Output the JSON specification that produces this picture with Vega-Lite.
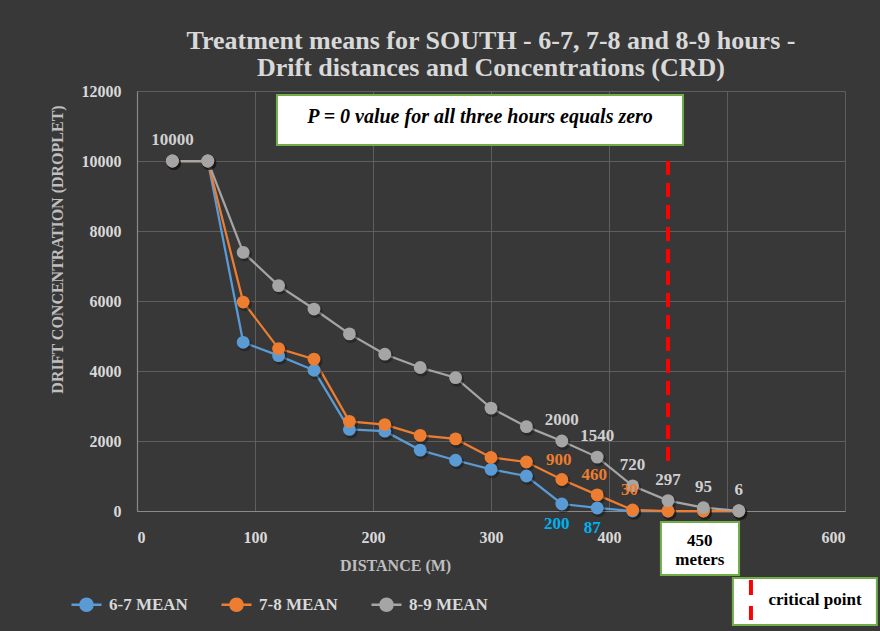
{
  "$schema": "https://vega.github.io/schema/vega-lite/v6.json",
  "width": 708,
  "height": 420,
  "autosize": {"type": "none"},
  "padding": {"left": 137, "top": 91, "right": 35, "bottom": 120},
  "background": "#383838",
  "config": {
    "view": {"stroke": null},
    "font": "Times New Roman, Liberation Serif, serif"
  },
  "title": {
    "text": ["Treatment means for SOUTH - 6-7, 7-8 and 8-9 hours -", "Drift distances and Concentrations (CRD)"],
    "font": "Times New Roman, Liberation Serif, serif",
    "fontSize": 26,
    "fontWeight": "bold",
    "color": "#d9d9d9",
    "anchor": "middle",
    "lineHeight": 27,
    "offset": 2
  },
  "datasets": {
    "series": [
      {"x": 30, "y": 10000, "s": "6-7 MEAN"},
      {"x": 60, "y": 10000, "s": "6-7 MEAN"},
      {"x": 90, "y": 4820, "s": "6-7 MEAN"},
      {"x": 120, "y": 4440, "s": "6-7 MEAN"},
      {"x": 150, "y": 4020, "s": "6-7 MEAN"},
      {"x": 180, "y": 2330, "s": "6-7 MEAN"},
      {"x": 210, "y": 2280, "s": "6-7 MEAN"},
      {"x": 240, "y": 1740, "s": "6-7 MEAN"},
      {"x": 270, "y": 1450, "s": "6-7 MEAN"},
      {"x": 300, "y": 1190, "s": "6-7 MEAN"},
      {"x": 330, "y": 1000, "s": "6-7 MEAN"},
      {"x": 360, "y": 200, "s": "6-7 MEAN", "lbl": "200"},
      {"x": 390, "y": 87, "s": "6-7 MEAN", "lbl": "87"},
      {"x": 420, "y": 0, "s": "6-7 MEAN"},
      {"x": 450, "y": 0, "s": "6-7 MEAN"},
      {"x": 480, "y": 0, "s": "6-7 MEAN"},
      {"x": 510, "y": 0, "s": "6-7 MEAN"},
      {"x": 30, "y": 10000, "s": "7-8 MEAN"},
      {"x": 60, "y": 10000, "s": "7-8 MEAN"},
      {"x": 90, "y": 5970, "s": "7-8 MEAN"},
      {"x": 120, "y": 4640, "s": "7-8 MEAN"},
      {"x": 150, "y": 4340, "s": "7-8 MEAN"},
      {"x": 180, "y": 2560, "s": "7-8 MEAN"},
      {"x": 210, "y": 2470, "s": "7-8 MEAN"},
      {"x": 240, "y": 2160, "s": "7-8 MEAN"},
      {"x": 270, "y": 2060, "s": "7-8 MEAN"},
      {"x": 300, "y": 1530, "s": "7-8 MEAN"},
      {"x": 330, "y": 1400, "s": "7-8 MEAN"},
      {"x": 360, "y": 900, "s": "7-8 MEAN", "lbl": "900"},
      {"x": 390, "y": 460, "s": "7-8 MEAN", "lbl": "460"},
      {"x": 420, "y": 30, "s": "7-8 MEAN", "lbl": "30"},
      {"x": 450, "y": 0, "s": "7-8 MEAN"},
      {"x": 480, "y": 0, "s": "7-8 MEAN"},
      {"x": 510, "y": 0, "s": "7-8 MEAN"},
      {"x": 30, "y": 10000, "s": "8-9 MEAN", "lbl": "10000"},
      {"x": 60, "y": 10000, "s": "8-9 MEAN"},
      {"x": 90, "y": 7390, "s": "8-9 MEAN"},
      {"x": 120, "y": 6440, "s": "8-9 MEAN"},
      {"x": 150, "y": 5770, "s": "8-9 MEAN"},
      {"x": 180, "y": 5060, "s": "8-9 MEAN"},
      {"x": 210, "y": 4480, "s": "8-9 MEAN"},
      {"x": 240, "y": 4100, "s": "8-9 MEAN"},
      {"x": 270, "y": 3810, "s": "8-9 MEAN"},
      {"x": 300, "y": 2940, "s": "8-9 MEAN"},
      {"x": 330, "y": 2410, "s": "8-9 MEAN"},
      {"x": 360, "y": 2000, "s": "8-9 MEAN", "lbl": "2000"},
      {"x": 390, "y": 1540, "s": "8-9 MEAN", "lbl": "1540"},
      {"x": 420, "y": 720, "s": "8-9 MEAN", "lbl": "720"},
      {"x": 450, "y": 297, "s": "8-9 MEAN", "lbl": "297"},
      {"x": 480, "y": 95, "s": "8-9 MEAN", "lbl": "95"},
      {"x": 510, "y": 6, "s": "8-9 MEAN", "lbl": "6"}
    ],
    "boxes": [
      {"x": 118.6, "x2": 462.7, "y": 11886, "y2": 10457},
      {"x": 444, "x2": 510.2, "y": -314, "y2": -1829},
      {"x": 505, "x2": 627, "y": -1914, "y2": -3257}
    ],
    "notes": [
      {"x": 290.7, "y": 11250, "t": "P = 0  value for all three hours equals zero", "k": "p"},
      {"x": 477, "y": -857, "t": "450", "k": "b"},
      {"x": 477, "y": -1400, "t": "meters", "k": "b"},
      {"x": 574.6, "y": -2543, "t": "critical point", "k": "b"}
    ],
    "dashes": [
      {"x": 450, "y": 10000, "y2": 1229, "k": "main"},
      {"x": 520.3, "y": -1971, "y2": -3114, "k": "key"}
    ]
  },
  "layer": [
    {
      "data": {"name": "series"},
      "mark": {"type": "line", "strokeWidth": 2.25},
      "encoding": {
        "x": {
          "field": "x", "type": "quantitative",
          "scale": {"domain": [0, 600], "nice": false},
          "axis": {
            "values": [0, 100, 200, 300, 400, 500, 600],
            "title": "DISTANCE (M)",
            "titleX": 258, "titleY": 54,
            "titleBaseline": "middle", "titleAlign": "center",
            "titleColor": "#bfbfbf", "titleFont": "Times New Roman, Liberation Serif, serif", "titleFontSize": 16, "titleFontWeight": "bold",
            "labelColor": "#d9d9d9", "labelFont": "Times New Roman, Liberation Serif, serif", "labelFontSize": 16, "labelFontWeight": "bold",
            "labelPadding": 18, "ticks": false,
            "domainColor": "#8a8a8a", "domainWidth": 1.2,
            "gridColor": "#5e5e5e", "gridWidth": 1
          }
        },
        "y": {
          "field": "y", "type": "quantitative",
          "scale": {"domain": [0, 12000], "nice": false},
          "axis": {
            "values": [0, 2000, 4000, 6000, 8000, 10000, 12000],
            "format": "d",
            "title": "DRIFT CONCENTRATION (DROPLET)",
            "titleX": -80, "titleY": 158,
            "titleBaseline": "middle", "titleAlign": "center", "titleAngle": -90,
            "titleColor": "#bfbfbf", "titleFont": "Times New Roman, Liberation Serif, serif", "titleFontSize": 16, "titleFontWeight": "bold",
            "labelColor": "#d9d9d9", "labelFont": "Times New Roman, Liberation Serif, serif", "labelFontSize": 16, "labelFontWeight": "bold",
            "labelPadding": 16, "ticks": false,
            "domainColor": "#8a8a8a", "domainWidth": 1.2,
            "gridColor": "#5e5e5e", "gridWidth": 1
          }
        },
        "color": {
          "field": "s", "type": "nominal",
          "scale": {"domain": ["6-7 MEAN", "7-8 MEAN", "8-9 MEAN"], "range": ["#5B9BD5", "#ED7D31", "#A5A5A5"]},
          "legend": {
            "title": null,
            "orient": "none",
            "direction": "horizontal",
            "legendX": -67,
            "legendY": 497,
            "padding": 0,
            "symbolType": "M-1,0H1M0.4,0A0.4,0.4,0,1,1,-0.4,0A0.4,0.4,0,1,1,0.4,0Z",
            "symbolSize": 900,
            "symbolStrokeWidth": 2.5,
            "labelOffset": 6,
            "columnPadding": 28,
            "labelColor": "#d9d9d9",
            "labelFont": "Times New Roman, Liberation Serif, serif",
            "labelFontSize": 17,
            "labelFontWeight": "bold",
            "encode": {
              "symbols": {
                "update": {
                  "fill": {"field": "value", "scale": "color"},
                  "stroke": {"field": "value", "scale": "color"},
                  "opacity": {"value": 1}
                }
              }
            }
          }
        }
      }
    },
    {
      "data": {"name": "series"},
      "mark": {"type": "point", "filled": true, "size": 200, "color": "#111111", "opacity": 0.4, "xOffset": 1.5, "yOffset": 2},
      "encoding": {
        "x": {"field": "x", "type": "quantitative"},
        "y": {"field": "y", "type": "quantitative"}
      }
    },
    {
      "data": {"name": "series"},
      "mark": {"type": "point", "filled": true, "size": 165, "opacity": 1},
      "encoding": {
        "x": {"field": "x", "type": "quantitative"},
        "y": {"field": "y", "type": "quantitative"},
        "color": {"field": "s", "type": "nominal"}
      }
    },
    {
      "data": {"name": "series"},
      "transform": [{"filter": "datum.s == '8-9 MEAN' && datum.lbl != null"}],
      "mark": {"type": "text", "dy": -21, "font": "Times New Roman, Liberation Serif, serif", "fontSize": 17, "fontWeight": "bold", "color": "#d0d0d0"},
      "encoding": {
        "x": {"field": "x", "type": "quantitative"},
        "y": {"field": "y", "type": "quantitative"},
        "text": {"field": "lbl"}
      }
    },
    {
      "data": {"name": "series"},
      "transform": [{"filter": "datum.s == '7-8 MEAN' && datum.lbl != null"}],
      "mark": {"type": "text", "dy": -20, "dx": -3, "font": "Times New Roman, Liberation Serif, serif", "fontSize": 17, "fontWeight": "bold", "color": "#ED7D31"},
      "encoding": {
        "x": {"field": "x", "type": "quantitative"},
        "y": {"field": "y", "type": "quantitative"},
        "text": {"field": "lbl"}
      }
    },
    {
      "data": {"name": "series"},
      "transform": [{"filter": "datum.s == '6-7 MEAN' && datum.lbl != null"}],
      "mark": {"type": "text", "dy": 20, "dx": -5, "font": "Times New Roman, Liberation Serif, serif", "fontSize": 17, "fontWeight": "bold", "color": "#00B0F0"},
      "encoding": {
        "x": {"field": "x", "type": "quantitative"},
        "y": {"field": "y", "type": "quantitative"},
        "text": {"field": "lbl"}
      }
    },
    {
      "data": {"name": "dashes"},
      "transform": [{"filter": "datum.k == 'main'"}],
      "mark": {"type": "rule", "color": "#FF0000", "strokeWidth": 4, "strokeDash": [14, 8]},
      "encoding": {
        "x": {"field": "x", "type": "quantitative"},
        "y": {"field": "y", "type": "quantitative"},
        "y2": {"field": "y2"}
      }
    },
    {
      "data": {"name": "boxes"},
      "mark": {"type": "rect", "fill": "#ffffff", "stroke": "#70AD47", "strokeWidth": 2},
      "encoding": {
        "x": {"field": "x", "type": "quantitative"},
        "x2": {"field": "x2"},
        "y": {"field": "y", "type": "quantitative"},
        "y2": {"field": "y2"}
      }
    },
    {
      "data": {"name": "dashes"},
      "transform": [{"filter": "datum.k == 'key'"}],
      "mark": {"type": "rule", "color": "#FF0000", "strokeWidth": 4, "strokeDash": [15, 11]},
      "encoding": {
        "x": {"field": "x", "type": "quantitative"},
        "y": {"field": "y", "type": "quantitative"},
        "y2": {"field": "y2"}
      }
    },
    {
      "data": {"name": "notes"},
      "transform": [{"filter": "datum.k == 'p'"}],
      "mark": {"type": "text", "font": "Times New Roman, Liberation Serif, serif", "fontSize": 20, "fontWeight": "bold", "fontStyle": "italic", "color": "#000000", "baseline": "middle"},
      "encoding": {
        "x": {"field": "x", "type": "quantitative"},
        "y": {"field": "y", "type": "quantitative"},
        "text": {"field": "t"}
      }
    },
    {
      "data": {"name": "notes"},
      "transform": [{"filter": "datum.k == 'b'"}],
      "mark": {"type": "text", "font": "Times New Roman, Liberation Serif, serif", "fontSize": 17, "fontWeight": "bold", "color": "#000000", "baseline": "middle"},
      "encoding": {
        "x": {"field": "x", "type": "quantitative"},
        "y": {"field": "y", "type": "quantitative"},
        "text": {"field": "t"}
      }
    }
  ]
}
